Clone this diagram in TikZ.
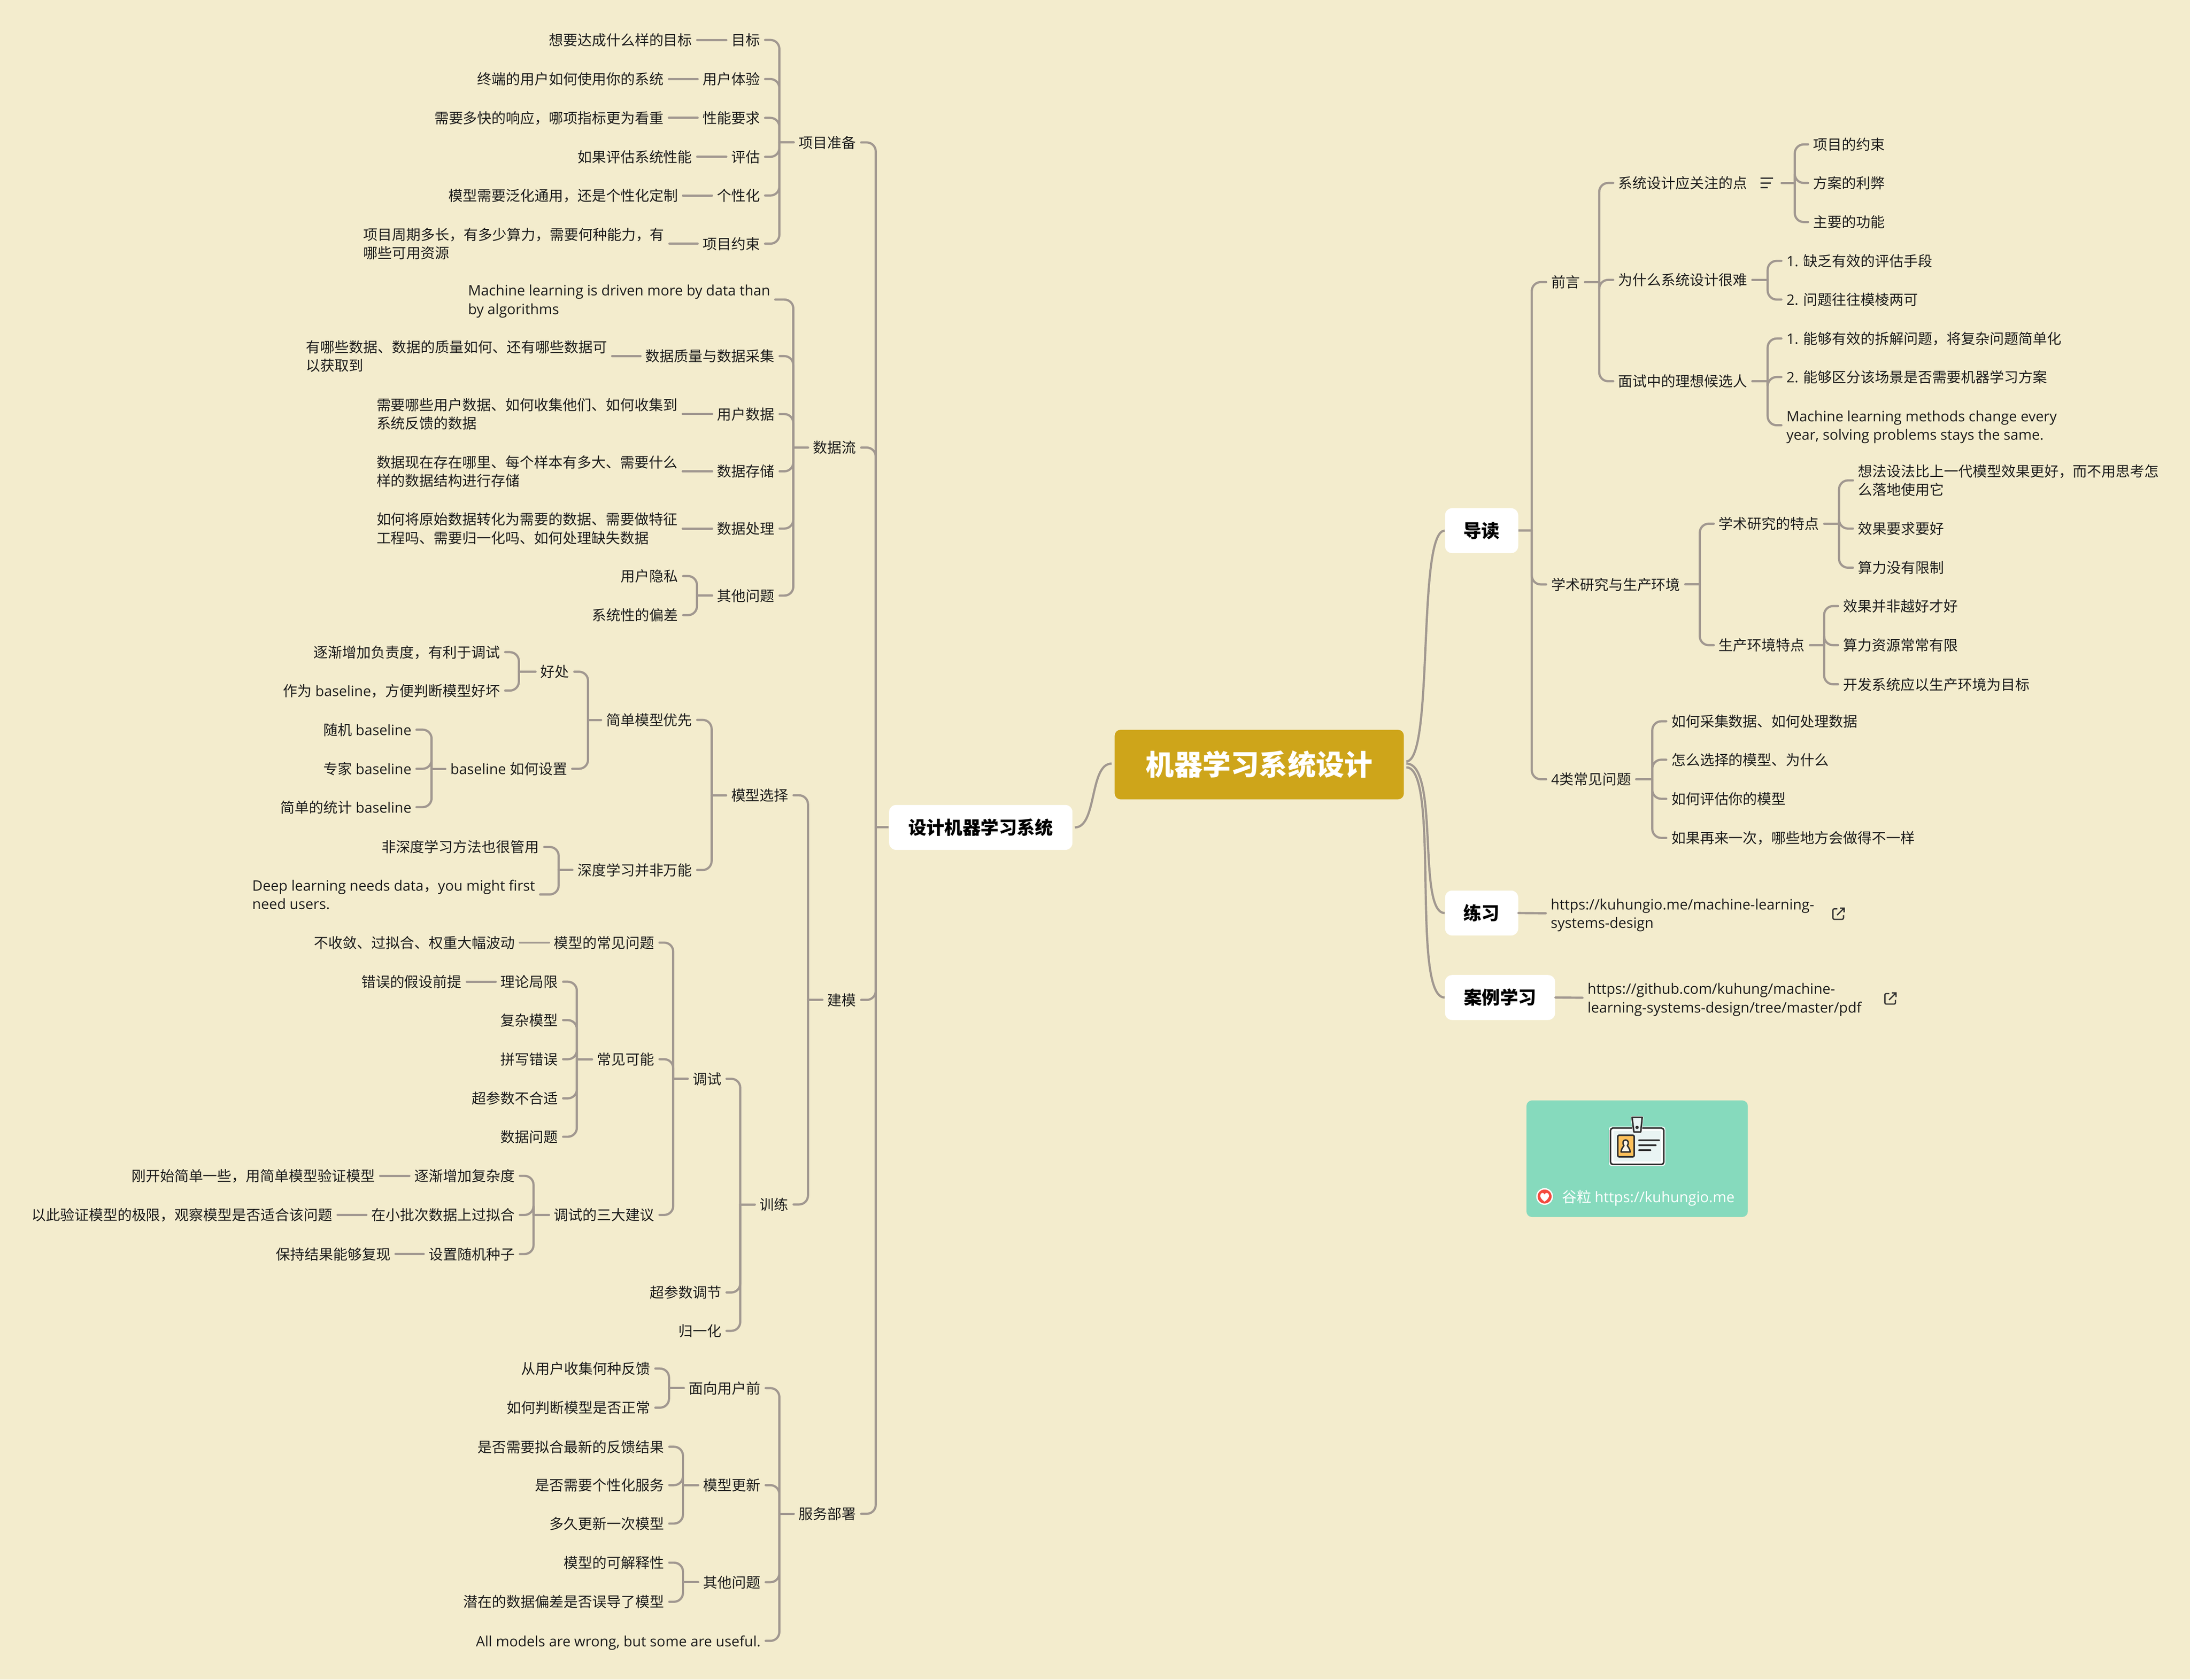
\documentclass[tikz,border=0pt]{standalone}
\usepackage{fontspec}
\setmainfont{Noto Sans CJK SC}
\newfontfamily\latinf{Open Sans}
\newcommand\lnt[1]{{\latinf #1}}
\newlength\ux \setlength\ux{0.031154cm}
\newcommand\stt{\rule[-0.2\baselineskip]{0pt}{\baselineskip}}
\definecolor{bgc}{HTML}{F3ECCD}
\definecolor{linec}{HTML}{A19890}
\definecolor{goldc}{HTML}{CEA51A}
\definecolor{greenc}{HTML}{86DABD}
\definecolor{inkc}{HTML}{1C1C1C}
\definecolor{iconc}{HTML}{2F2F2F}
\definecolor{paleic}{HTML}{E9F4F3}
\definecolor{photoc}{HTML}{FDC05A}
\definecolor{creamc}{HTML}{FAF3E6}
\definecolor{heartc}{HTML}{F44B3F}
\tikzset{
  tx/.style={inner sep=0pt,align=left,text=inkc,font=\fontsize{9.1}{11.8}\selectfont},
  conn/.style={draw=linec,line width=1.4pt,line cap=round,shorten <=3pt,shorten >=3pt},
  stubl/.style={draw=linec,line width=1.4pt,line cap=round,shorten <=3pt},
  stubz/.style={draw=linec,line width=1.4pt},
  twig/.style={draw=linec,line width=1.4pt,line cap=round,shorten >=3pt,rounded corners=2mm},
  curve/.style={draw=linec,line width=1.4pt},
  branch/.style={fill=white,rounded corners=1.6mm,inner sep=0pt,text=black,font=\fontsize{11.5}{14}\selectfont\bfseries,minimum height=32.2\ux},
}
\newcommand\NL[4]{\node[tx,anchor=east] (#1) at (#2+0.8,#3) {\stt #4\stt};}
\newcommand\NR[4]{\node[tx,anchor=west] (#1) at (#2-0.6,#3) {\stt #4\stt};}
\newcommand\BrL[3]{\draw[stubl] (#1.west) -- (#2,0 |- #1.west) coordinate (j);
  \foreach \c in {#3}{\draw[twig] (j) |- (\c.east);}}
\newcommand\BrR[3]{\draw[stubl] (#1.east) -- (#2,0 |- #1.east) coordinate (j);
  \foreach \c in {#3}{\draw[twig] (j) |- (\c.west);}}
\newcommand\BrLz[3]{\draw[stubz] (#1.west) -- (#2,0 |- #1.west) coordinate (j);
  \foreach \c in {#3}{\draw[twig] (j) |- (\c.east);}}
\newcommand\BrRz[3]{\draw[stubz] (#1.east) -- (#2,0 |- #1.east) coordinate (j);
  \foreach \c in {#3}{\draw[twig] (j) |- (\c.west);}}
\begin{document}
\begin{tikzpicture}[x=0.031154cm,y=-0.031154cm]
\useasboundingbox (0,0) rectangle (1568,1202.75);
\fill[bgc] (0,0) rectangle (1568,1202.75);

% main nodes
\node[fill=goldc,rounded corners=1.3mm,inner sep=0pt,minimum width=207\ux,minimum height=49.8\ux,text=white,font=\fontsize{18}{22}\selectfont\bfseries] (root) at (901.6,547.5) {机器学习系统设计};
\node[branch,minimum width=131.3\ux] (design) at (702.2,592.5) {设计机器学习系统};
\node[branch,minimum width=52.4\ux] (guide) at (1060.8,380) {导读};
\node[branch,minimum width=52.4\ux] (prac) at (1060.8,653.8) {练习};
\node[branch,minimum width=78.9\ux] (cases) at (1074,714.3) {案例学习};

\draw[curve] (root.west) ++(-2,-0.7) .. controls +(-16,0) and +(16,0) .. ([xshift=1.5\ux]design.east);
\draw[curve] (root.east) ++(1.6,-2.3) .. controls +(20,0) and +(-20,0) .. (guide.west);
\draw[curve] (root.east) ++(1.6,-0.7) .. controls +(24,0) and +(-20,0) .. (prac.west);
\draw[curve] (root.east) ++(1.6,2) .. controls +(24.5,0) and +(-24.5,0) .. (cases.west);

% ---------- right side
\NR{qy}{1111}{202}{前言}
\NR{xs}{1111}{418.5}{学术研究与生产环境}
\NR{lei}{1111}{558}{\lnt{4}类常见问题}
\BrRz{guide}{1096.7}{qy,xs,lei}

\NR{sj}{1159}{131}{系统设计应关注的点}
\NR{wsm}{1159}{200.4}{为什么系统设计很难}
\NR{ms}{1159}{273}{面试中的理想候选人}
\BrR{qy}{1145}{sj,wsm,ms}

\node[inner sep=0pt,minimum size=0pt] (sjicon) at (1272,131) {};
\draw[iconc,line width=0.8pt] (1260.5,127.6) -- (1269.5,127.6) (1260.5,131) -- (1268,131) (1260.5,134.4) -- (1265.5,134.4);
\NR{yj}{1298.5}{103.4}{项目的约束}
\NR{fa}{1298.5}{131}{方案的利弊}
\NR{zy}{1298.5}{159}{主要的功能}
\BrR{sjicon}{1285}{yj,fa,zy}

\NR{qf}{1279.4}{186.8}{\lnt{1. }缺乏有效的评估手段}
\NR{wt}{1279.4}{214.5}{\lnt{2. }问题往往模棱两可}
\BrR{wsm}{1265.6}{qf,wt}

\NR{ng}{1279.4}{242.4}{\lnt{1. }能够有效的拆解问题，将复杂问题简单化}
\NR{qf2}{1279.4}{270}{\lnt{2. }能够区分该场景是否需要机器学习方案}
\NR{mlm}{1279.4}{304.5}{\lnt{Machine learning methods change every}\\\lnt{year, solving problems stays the same.}}
\BrR{ms}{1265.6}{ng,qf2,mlm}

\NR{xt}{1231}{375}{学术研究的特点}
\NR{sc}{1231}{462}{生产环境特点}
\BrR{xs}{1217}{xt,sc}

\NR{xf}{1330.6}{344}{想法设法比上一代模型效果更好，而不用思考怎\\么落地使用它}
\NR{xg}{1330.6}{378.5}{效果要求要好}
\NR{sl}{1330.6}{406.5}{算力没有限制}
\BrR{xt}{1316.7}{xf,xg,sl}

\NR{sa}{1320}{434}{效果并非越好才好}
\NR{sb}{1320}{462}{算力资源常常有限}
\NR{sd}{1320}{490}{开发系统应以生产环境为目标}
\BrR{sc}{1306}{sa,sb,sd}

\NR{la}{1197}{516.5}{如何采集数据、如何处理数据}
\NR{lb}{1197}{544}{怎么选择的模型、为什么}
\NR{lc}{1197}{572}{如何评估你的模型}
\NR{ld}{1197}{600}{如果再来一次，哪些地方会做得不一样}
\BrR{lei}{1183}{la,lb,lc,ld}

\NR{u1}{1110.7}{654}{\lnt{https://kuhungio.me/machine-learning-}\\\lnt{systems-design}}
\draw[conn,shorten <=0pt] (prac.east) -- (u1.west);
\NR{u2}{1137}{714.5}{\lnt{https://github.com/kuhung/machine-}\\\lnt{learning-systems-design/tree/master/pdf}}
\draw[conn,shorten <=0pt] (cases.east) -- (u2.west);
% link icons
\foreach \ix/\iy in {1316.3/654.3,1353.5/715}{
  \begin{scope}[shift={(\ix,\iy)}]
    \draw[iconc,line width=0.8pt,rounded corners=0.3mm] (-0.8,-3.5) -- (-4,-3.5) -- (-4,4) -- (3.6,4) -- (3.6,1);
    \draw[iconc,line width=0.8pt] (-1,1) -- (4,-4) (1,-4) -- (4,-4) -- (4,-1);
  \end{scope}}

% card
\node[fill=greenc,rounded corners=1.25mm,inner sep=0pt,minimum width=158.5\ux,minimum height=83.5\ux] (card) at (1172.15,829.75) {};
\node[tx,anchor=west,text=white,font=\fontsize{9.3}{11.8}\selectfont] (cardt) at (1118.2,857) {\stt 谷粒 \lnt{https://kuhungio.me}\stt};
\fill[white] (1105.9,856.8) circle (6);
\fill[heartc] (1105.9,856.8) circle (5);
\fill[white] (1105.9,860.5) .. controls (1103.2,858.4) and (1102.6,857) .. (1102.8,855.8)
  .. controls (1103.2,853.8) and (1105.3,853.8) .. (1105.9,855.4)
  .. controls (1106.5,853.8) and (1108.6,853.8) .. (1109,855.8)
  .. controls (1109.2,857) and (1108.6,858.4) .. (1105.9,860.5) -- cycle;
% badge
\fill[white,rounded corners=0.6mm] (1152,806.7) rectangle (1192.3,834.9);
\filldraw[draw=iconc,fill=white,line width=1pt,rounded corners=0.5mm] (1153.1,807.8) rectangle (1191.2,833.8);
\fill[paleic,rounded corners=0.15mm] (1155.2,809.7) rectangle (1189.3,831.8);
\filldraw[draw=white,fill=white,line width=1.5pt,line join=round] (1168.5,800.1) -- (1175.8,800.1) -- (1174.7,810.6) -- (1169.8,810.6) -- cycle;
\filldraw[draw=iconc,fill=paleic,line width=1pt,line join=round] (1168.5,800.1) -- (1175.8,800.1) -- (1174.7,810.6) -- (1169.8,810.6) -- cycle;
\fill[iconc] (1172.1,807.3) circle (1.2);
\filldraw[draw=iconc,fill=photoc,line width=1pt,rounded corners=0.3mm] (1158.3,812.9) rectangle (1170,828.4);
\filldraw[draw=iconc,fill=creamc,line width=0.9pt,line join=round] (1163.9,816.3) .. controls (1161.9,816.3) and (1161.4,818.8) .. (1162.7,820.4)
  .. controls (1161.6,821.8) and (1160.8,823) .. (1160.6,824.9) -- (1167.2,824.9)
  .. controls (1167,823) and (1166.2,821.8) .. (1165.1,820.4)
  .. controls (1166.4,818.8) and (1165.9,816.3) .. (1163.9,816.3) -- cycle;
\draw[iconc,line width=1pt,line cap=round] (1173.5,816.5) -- (1187.9,816.5) (1173.5,820.1) -- (1185.5,820.1) (1173.5,823.7) -- (1181.7,823.7);

% ---------- left side
\NL{xm}{612.4}{102}{项目准备}
\NL{sjl}{612.4}{320.5}{数据流}
\NL{jm}{612.4}{716}{建模}
\NL{fw}{612.4}{1084}{服务部署}
\BrLz{design}{627}{xm,sjl,jm,fw}

\NL{a1}{543.6}{28.6}{目标}
\NL{a2}{543.6}{56.6}{用户体验}
\NL{a3}{543.6}{84.4}{性能要求}
\NL{a4}{543.6}{112.3}{评估}
\NL{a5}{543.6}{140}{个性化}
\NL{a6}{543.6}{174.5}{项目约束}
\BrL{xm}{558}{a1,a2,a3,a4,a5,a6}
\NL{a1c}{495}{28.6}{想要达成什么样的目标}
\NL{a2c}{474.7}{56.6}{终端的用户如何使用你的系统}
\NL{a3c}{474.7}{84.4}{需要多快的响应，哪项指标更为看重}
\NL{a4c}{495}{112.3}{如果评估系统性能}
\NL{a5c}{484.8}{140}{模型需要泛化通用，还是个性化定制}
\NR{a6c}{260.5}{174.5}{项目周期多长，有多少算力，需要何种能力，有\\哪些可用资源}
\foreach \p in {a1,a2,a3,a4,a5,a6}{\draw[conn] (\p.west) -- (\p c.east);}

\NR{b1}{335.5}{214.5}{\lnt{Machine learning is driven more by data than}\\\lnt{by algorithms}}
\NL{b2}{554}{255}{数据质量与数据采集}
\NL{b3}{554}{296.5}{用户数据}
\NL{b4}{554}{337.5}{数据存储}
\NL{b5}{554}{378.5}{数据处理}
\NL{b6}{554}{426.5}{其他问题}
\BrL{sjl}{568}{b1,b2,b3,b4,b5,b6}
\NR{b2c}{219.5}{255}{有哪些数据、数据的质量如何、还有哪些数据可\\以获取到}
\NR{b3c}{270}{296.5}{需要哪些用户数据、如何收集他们、如何收集到\\系统反馈的数据}
\NR{b4c}{270}{337.5}{数据现在存在哪里、每个样本有多大、需要什么\\样的数据结构进行存储}
\NR{b5c}{270}{378.5}{如何将原始数据转化为需要的数据、需要做特征\\工程吗、需要归一化吗、如何处理缺失数据}
\foreach \p in {b2,b3,b4,b5}{\draw[conn] (\p.west) -- (\p c.east);}
\NL{b6a}{485}{412.5}{用户隐私}
\NL{b6b}{485}{440.5}{系统性的偏差}
\BrL{b6}{499}{b6a,b6b}

\NL{mx}{564}{569.5}{模型选择}
\NL{xl}{564}{862.5}{训练}
\BrL{jm}{578.5}{mx,xl}

\NL{jd}{495}{515.5}{简单模型优先}
\NL{sd2}{495}{623}{深度学习并非万能}
\BrL{mx}{509.5}{jd,sd2}
\NL{hc}{407}{481}{好处}
\NL{bs}{405.5}{550.5}{\lnt{baseline }如何设置}
\BrL{jd}{421}{hc,bs}
\NL{hca}{357.5}{467}{逐渐增加负责度，有利于调试}
\NL{hcb}{357.5}{494.5}{作为\lnt{ baseline}，方便判断模型好坏}
\BrL{hc}{371.5}{hca,hcb}
\NL{bsa}{294}{522.5}{随机\lnt{ baseline}}
\NL{bsb}{294}{550.5}{专家\lnt{ baseline}}
\NL{bsc}{294}{578}{简单的统计\lnt{ baseline}}
\BrL{bs}{309}{bsa,bsb,bsc}
\NL{sda}{385.5}{606.5}{非深度学习方法也很管用}
\NR{sdb}{181}{640.5}{\lnt{Deep learning needs data}，\lnt{you might first}\\\lnt{need users.}}
\BrL{sd2}{400}{sda,sdb}

\NL{ts}{516}{772.5}{调试}
\NL{cc}{516}{925.5}{超参数调节}
\NL{gy}{516}{953}{归一化}
\BrL{xl}{530}{ts,cc,gy}
\NL{c1}{468}{675}{模型的常见问题}
\NL{c2}{468}{758.5}{常见可能}
\NL{c3}{468}{870}{调试的三大建议}
\BrL{ts}{482}{c1,c2,c3}
\NL{c1c}{368}{675}{不收敛、过拟合、权重大幅波动}
\draw[conn] (c1.west) -- (c1c.east);
\NL{d1}{399}{703}{理论局限}
\NL{d2}{399}{730.5}{复杂模型}
\NL{d3}{399}{758.5}{拼写错误}
\NL{d4}{399}{786.5}{超参数不合适}
\NL{d5}{399}{814}{数据问题}
\BrL{c2}{413}{d1,d2,d3,d4,d5}
\NL{d1c}{330}{703}{错误的假设前提}
\draw[conn] (d1.west) -- (d1c.east);
\NL{e1}{368}{842}{逐渐增加复杂度}
\NL{e2}{368}{870}{在小批次数据上过拟合}
\NL{e3}{368}{898}{设置随机种子}
\BrL{c3}{382}{e1,e2,e3}
\NL{e1c}{268}{842}{刚开始简单一些，用简单模型验证模型}
\NL{e2c}{237.5}{870}{以此验证模型的极限，观察模型是否适合该问题}
\NL{e3c}{279}{898}{保持结果能够复现}
\foreach \p in {e1,e2,e3}{\draw[conn] (\p.west) -- (\p c.east);}

\NL{f1}{544}{994}{面向用户前}
\NL{f2}{544}{1063.5}{模型更新}
\NL{f3}{544}{1133}{其他问题}
\NL{f4}{544}{1175}{\lnt{All models are wrong, but some are useful.}}
\BrL{fw}{558}{f1,f2,f3,f4}
\NL{g1}{465}{980}{从用户收集何种反馈}
\NL{g2}{465}{1008}{如何判断模型是否正常}
\BrL{f1}{479}{g1,g2}
\NL{h1}{475}{1036}{是否需要拟合最新的反馈结果}
\NL{h2}{475}{1063.5}{是否需要个性化服务}
\NL{h3}{475}{1091}{多久更新一次模型}
\BrL{f2}{489}{h1,h2,h3}
\NL{i1}{475}{1119}{模型的可解释性}
\NL{i2}{475}{1147}{潜在的数据偏差是否误导了模型}
\BrL{f3}{489}{i1,i2}
\end{tikzpicture}
\end{document}
